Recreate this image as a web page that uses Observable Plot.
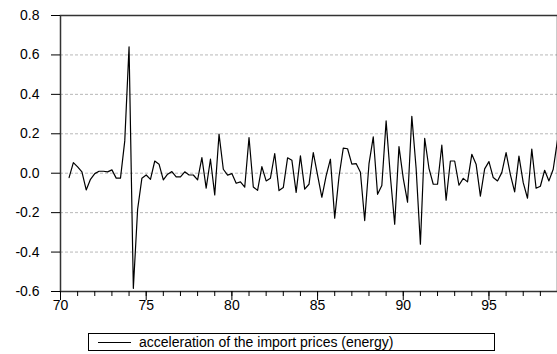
<!DOCTYPE html>
<html><head><meta charset="utf-8">
<script src="https://cdn.jsdelivr.net/npm/d3@7"></script>
<script src="https://cdn.jsdelivr.net/npm/@observablehq/plot@0.6"></script>
<style>
body{margin:0;background:#fff;font-family:Arial,"Liberation Sans",sans-serif;}
#chart{position:relative;width:557px;height:354px;overflow:hidden;}
#chart svg{position:absolute;left:0;top:0;}
#legend{position:absolute;left:88px;top:333px;width:407px;height:18px;border:1px solid #000;box-sizing:border-box;font-size:14px;color:#000;}
#legend .swatch{position:absolute;left:9px;top:8px;width:33px;height:0;border-top:1px solid #000;}
#legend .label{position:absolute;left:50px;top:0px;white-space:nowrap;line-height:16px;}
</style></head><body>
<div id="chart"></div>
<script>
// quarterly series, first observation 1970Q3 (plotted at 70.5)
const startYear = 70.5;
const quarterStep = 0.25;
const values = [
  -0.022, 0.054, 0.032, 0.007, -0.085, -0.031, -0.002, 0.010, 0.010, 0.007,
   0.017, -0.025, -0.025, 0.164, 0.641, -0.584, -0.183, -0.025, -0.009, -0.031,
   0.062, 0.046, -0.034, -0.005, 0.008, -0.019, -0.019, 0.007, -0.009, -0.009,
  -0.034, 0.079, -0.076, 0.071, -0.110, 0.198, 0.020, -0.010, -0.002, -0.051,
  -0.044, -0.071, 0.181, -0.070, -0.087, 0.033, -0.039, -0.025, 0.100, -0.088,
  -0.073, 0.078, 0.066, -0.097, 0.088, -0.081, -0.056, 0.105, -0.010, -0.122,
  -0.014, 0.071, -0.228, -0.018, 0.127, 0.124, 0.046, 0.049, 0.005, -0.240,
   0.047, 0.184, -0.107, -0.062, 0.265, -0.018, -0.259, 0.135, -0.026, -0.147,
   0.289, 0.025, -0.360, 0.177, 0.025, -0.056, -0.056, 0.142, -0.137, 0.062,
   0.062, -0.061, -0.026, -0.044, 0.096, 0.046, -0.116, 0.022, 0.059, -0.022,
  -0.039, 0.003, 0.105, -0.007, -0.095, 0.087, -0.048, -0.127, 0.122, -0.076,
  -0.066, 0.015, -0.039, 0.020, 0.168
];
const xMajorTicks = [70, 75, 80, 85, 90, 95];
const xMinorTicks = [70,71,72,73,74,75,76,77,78,79,80,81,82,83,84,85,86,87,88,89,90,91,92,93,94,95,96,97,98,99];
const yTicks = [-0.6, -0.4, -0.2, 0.0, 0.2, 0.4, 0.6, 0.8];
const gridLines = [-0.4, -0.2, 0.0, 0.2, 0.4, 0.6];
const seriesLabel = "acceleration of the import prices (energy)";

const data = values.map((v, i) => ({t: startYear + i * quarterStep, v}));

const svg = Plot.plot({
  width: 557, height: 322,
  marginTop: 15, marginLeft: 60, marginRight: 0, marginBottom: 31,
  style: {fontFamily: "Arial, 'Liberation Sans', sans-serif", fontSize: "14px", background: "#fff", color: "#000"},
  x: {domain: [70, 99], label: null},
  y: {domain: [-0.6, 0.8], label: null},
  marks: [
    Plot.ruleY(gridLines, {stroke: "#b8b8b8", strokeDasharray: "3,2", strokeWidth: 1}),
    Plot.frame({stroke: "#333", strokeWidth: 1.5}),
    Plot.line(data, {x: "t", y: "v", stroke: "#000", strokeWidth: 1.2}),
    Plot.axisX({ticks: xMinorTicks, tickSize: 5, tickFormat: () => "", label: null, stroke: "#000", strokeOpacity: 1}),
    Plot.axisX({ticks: xMajorTicks, tickSize: 9, tickPadding: 0, tickFormat: d => String(d), label: null, stroke: "#000", strokeOpacity: 1}),
    Plot.axisY({ticks: yTicks, tickSize: 9, tickPadding: 12, tickFormat: d => d.toFixed(1), label: null, stroke: "#000", strokeOpacity: 1})
  ]
});
const chart = document.getElementById("chart");
chart.appendChild(svg);
const legend = document.createElement("div");
legend.id = "legend";
legend.innerHTML = `<div class="swatch"></div><div class="label"></div>`;
legend.querySelector(".label").textContent = seriesLabel;
chart.appendChild(legend);
</script>
</body></html>
